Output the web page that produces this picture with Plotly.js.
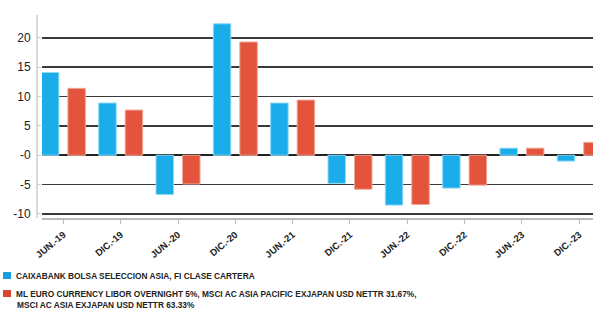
<!DOCTYPE html>
<html><head><meta charset="utf-8">
<script src="https://cdn.plot.ly/plotly-3.0.1.min.js"></script>
<style>html,body{margin:0;padding:0;background:#fff}#c{width:593px;height:313px}</style>
</head><body><div id="c"></div>
<script>
const categories = ["JUN.-19","DIC.-19","JUN.-20","DIC.-20","JUN.-21","DIC.-21","JUN.-22","DIC.-22","JUN.-23","DIC.-23"];
const fundValues = [14.1, 8.9, -6.7, 22.4, 8.9, -4.8, -8.5, -5.6, 1.2, -1.0];
const benchValues = [11.4, 7.7, -4.9, 19.3, 9.4, -5.8, -8.4, -5.1, 1.2, 2.2];
const fundName = "CAIXABANK BOLSA SELECCION ASIA, FI CLASE CARTERA";
const benchName = "ML EURO CURRENCY LIBOR OVERNIGHT 5%, MSCI AC ASIA PACIFIC EXJAPAN USD NETTR 31.67%,<br>MSCI AC ASIA EXJAPAN USD NETTR 63.33%";
const yTickVals = [-10, -5, 0, 5, 10, 15, 20];
const yTickText = ["-10", "-5", "-0", "5", "10", "15", "20"];

const blue = "#1badea", red = "#e4533c";
const traces = [
  {type:"bar", x:categories, y:fundValues, name:fundName,
   marker:{color:blue, line:{color:"#8fd9f6", width:1}}},
  {type:"bar", x:categories, y:benchValues, name:benchName.replace("<br>", " "),
   marker:{color:red, line:{color:"#f0a898", width:1}}}
];
const benchLines = benchName.split("<br>");
const legendFont = {family:"Liberation Sans, Arial", size:8.3, color:"#222", weight:"bold"};
const H = 203, W = 551;
const layout = {
  width:593, height:313,
  margin:{l:42, r:0, t:15, b:95},
  paper_bgcolor:"#fff", plot_bgcolor:"#fff",
  showlegend:false,
  barmode:"group", bargap:0.075, bargroupgap:0.34,
  xaxis:{range:[-0.373, 9.24], showgrid:false, showline:true, linecolor:"#bbb", linewidth:1.5,
         ticks:"outside", ticklen:4, tickcolor:"#bbb", tickangle:-40,
         tickfont:{family:"Liberation Sans, Arial", size:9.5, color:"#222", weight:"bold"},
         ticklabelstandoff:2, zeroline:false, fixedrange:true},
  yaxis:{range:[-10.7, 23.9], tickvals:yTickVals, ticktext:yTickText,
         showgrid:true, gridcolor:"#3a3a3a", gridwidth:1.5,
         zeroline:true, zerolinecolor:"#222", zerolinewidth:1.5,
         showline:false, ticks:"outside", ticklen:4, tickcolor:"#ccc",
         tickfont:{family:"Liberation Sans, Arial", size:12, color:"#222"}, ticklabelstandoff:4},
  shapes:[
    {type:"line", xref:"paper", yref:"paper", x0:-5/W, x1:-5/W, y0:0, y1:1, line:{color:"#ccc", width:1.5}},
    {type:"rect", xref:"paper", yref:"paper", x0:-39/W, x1:-31/W, y0:-54/H, y1:-61/H, fillcolor:"#1a9ee0", line:{width:0}},
    {type:"rect", xref:"paper", yref:"paper", x0:-39/W, x1:-31/W, y0:-72/H, y1:-79/H, fillcolor:"#d9472f", line:{width:0}}
  ],
  annotations:[
    {xref:"paper", yref:"paper", x:-28/W, y:-57.5/H, xanchor:"left", yanchor:"middle", showarrow:false, align:"left", text:fundName, font:legendFont},
    {xref:"paper", yref:"paper", x:-28/W, y:-75.5/H, xanchor:"left", yanchor:"middle", showarrow:false, align:"left", text:benchLines[0], font:legendFont},
    {xref:"paper", yref:"paper", x:-27/W, y:-87/H, xanchor:"left", yanchor:"middle", showarrow:false, align:"left", text:benchLines[1], font:legendFont}
  ]
};
Plotly.newPlot("c", traces, layout, {staticPlot:true, displayModeBar:false});
</script></body></html>
